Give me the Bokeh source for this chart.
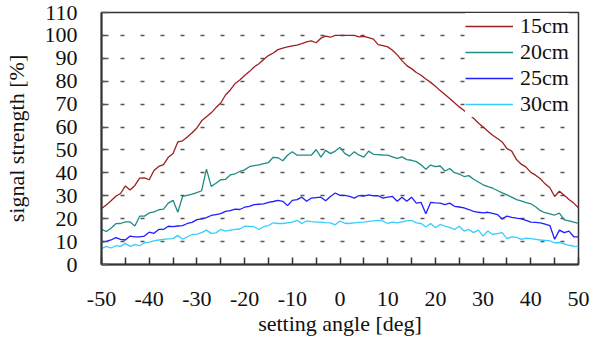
from bokeh.plotting import figure
from bokeh.models import FixedTicker, Legend, LegendItem, ColumnDataSource
from bokeh.embed import file_html
from bokeh.resources import INLINE

angles = list(range(-50, 51))

s15 = [24.4, 26.0, 27.8, 29.8, 31.0, 34.3, 32.5, 34.5, 37.7, 37.8,
       37.0, 41.0, 42.8, 43.6, 46.8, 48.5, 53.5, 54.0, 55.7, 57.5,
       59.6, 62.7, 64.5, 66.2, 68.5, 70.5, 74.0, 76.2, 79.0, 80.5,
       82.5, 84.2, 86.2, 87.6, 89.5, 91.2, 92.3, 93.8, 94.5, 95.0,
       95.4, 95.8, 96.4, 97.2, 97.6, 96.8, 98.8, 99.7, 99.2, 100.0,
       100.0, 100.0, 100.0, 100.0, 99.4, 99.6, 99.0, 98.4, 96.0, 95.5,
       95.0, 93.5, 91.5, 89.0, 86.8, 85.5, 83.8, 82.6, 81.0, 79.5,
       77.8, 75.9, 74.2, 72.5, 70.6, 68.8, 67.2, 65.6, 63.8, 61.8,
       60.0, 58.2, 56.4, 55.0, 53.5, 50.6, 49.5, 45.8, 43.8, 42.5,
       40.2, 39.0, 37.4, 35.2, 33.5, 29.7, 32.0, 30.2, 28.4, 26.8,
       24.7]

s20 = [15.3, 14.4, 15.8, 17.8, 17.9, 18.6, 18.6, 16.8, 21.1, 21.1,
       22.5, 23.0, 23.9, 24.2, 26.8, 28.0, 22.8, 29.7, 30.2, 30.7,
       31.4, 32.2, 41.6, 34.1, 35.5, 37.0, 37.2, 39.1, 39.6, 40.6,
       41.3, 42.7, 43.2, 43.5, 44.0, 44.5, 46.8, 46.6, 45.3, 47.7,
       49.2, 47.7, 47.7, 47.7, 47.7, 50.2, 46.9, 49.8, 48.4, 49.5,
       51.1, 48.5, 47.3, 49.2, 47.7, 46.9, 49.5, 48.1, 48.0, 47.8,
       47.7, 47.0, 46.3, 47.0, 45.8, 45.5, 44.9, 43.5, 41.6, 43.4,
       42.7, 43.0, 40.8, 41.9, 40.1, 39.5, 38.4, 38.8, 37.2, 36.0,
       34.8, 34.0, 33.3, 32.3, 31.3, 30.4, 29.4, 28.3, 27.8, 27.0,
       26.5, 25.2, 23.5, 22.6, 22.1, 21.6, 22.4, 19.5, 19.0, 18.5,
       18.0]

s25 = [9.8, 10.1, 10.7, 11.7, 11.0, 10.7, 12.4, 12.1, 12.1, 12.4,
       14.1, 13.6, 15.3, 15.3, 16.7, 16.5, 16.8, 17.0, 17.9, 18.4,
       19.6, 19.9, 20.5, 21.4, 21.8, 22.2, 23.2, 23.5, 24.2, 24.0,
       25.0, 25.4, 26.1, 26.3, 26.5, 27.1, 27.5, 28.0, 27.6, 25.7,
       28.0, 28.3, 29.4, 27.6, 29.0, 29.2, 29.4, 27.8, 29.7, 31.2,
       30.2, 30.2, 29.7, 29.0, 30.1, 29.8, 30.4, 30.0, 30.0, 29.0,
       29.4, 29.7, 27.6, 29.4, 27.6, 29.4, 26.8, 27.1, 22.1, 27.1,
       26.9, 26.8, 26.1, 26.8, 25.4, 25.1, 24.7, 24.0, 23.2, 22.8,
       22.5, 22.8, 22.3, 21.8, 19.9, 21.1, 20.6, 20.2, 19.9, 19.3,
       18.5, 18.4, 18.2, 17.6, 17.0, 11.0, 15.0, 13.9, 14.6, 12.1,
       12.1]

s30 = [6.9, 7.9, 7.2, 8.2, 7.9, 9.2, 7.9, 8.7, 8.2, 9.5,
       9.8, 10.3, 10.7, 11.0, 11.2, 11.3, 12.7, 11.0, 12.1, 13.1,
       13.3, 13.9, 15.0, 13.6, 13.8, 15.3, 14.6, 15.0, 15.3, 15.5,
       16.7, 16.6, 16.5, 15.3, 16.5, 17.0, 18.2, 17.9, 17.9, 18.2,
       18.5, 19.3, 17.9, 19.0, 18.7, 18.5, 18.5, 18.3, 18.2, 17.3,
       19.0, 18.0, 17.9, 18.2, 18.4, 18.5, 18.8, 19.0, 19.3, 19.0,
       17.9, 18.5, 18.2, 18.6, 19.0, 19.3, 18.2, 17.9, 16.4, 17.9,
       16.0, 17.5, 16.7, 16.2, 15.3, 16.7, 14.6, 15.3, 13.9, 15.0,
       12.4, 14.6, 13.1, 13.5, 13.9, 11.3, 12.1, 11.8, 11.0, 11.5,
       11.3, 11.0, 10.7, 10.5, 10.3, 9.5, 9.6, 9.0, 8.4, 8.0,
       7.8]

series_names = ["15cm", "20cm", "25cm", "30cm"]
series_colors = ["#9E1F22", "#1E8C86", "#1F1FFF", "#36CDFF"]
x_ticks = list(range(-50, 51, 10))
x_minor = list(range(-45, 50, 10))
y_ticks = list(range(0, 111, 10))
x_tick_labels = {t: str(t) for t in x_ticks}

FONT = "Liberation Serif"

p = figure(width=592, height=339, output_backend="svg", toolbar_location=None,
           x_range=(-50, 50), y_range=(0, 110),
           min_border_left=97, min_border_right=14, min_border_top=12,
           min_border_bottom=75)
p.background_fill_color = "white"
p.border_fill_color = "white"
p.outline_line_color = "#333333"
p.outline_line_width = 1.5

src = ColumnDataSource(dict(x=angles, a=s15, b=s20, c=s25, d=s30))
renderers = []
for col, color in zip(["a", "b", "c", "d"], series_colors):
    r = p.line("x", col, source=src, line_color=color, line_width=1.3)
    renderers.append(r)

# grid
p.xgrid.visible = False
p.ygrid.ticker = FixedTicker(ticks=list(range(10, 101, 10)))
p.ygrid.grid_line_color = "#555555"
p.ygrid.grid_line_width = 1.3
p.ygrid.grid_line_dash = "4 16"
p.ygrid.grid_line_dash_offset = 1

# x axis
xa = p.xaxis[0]
xa.ticker = FixedTicker(ticks=x_ticks, minor_ticks=x_minor)
xa.major_label_overrides = x_tick_labels
xa.axis_label = "setting angle [deg]"
xa.axis_label_text_font = FONT
xa.axis_label_text_font_size = "22px"
xa.axis_label_text_font_style = "normal"
xa.axis_label_text_color = "#111111"
xa.axis_label_standoff = 2
xa.major_label_text_font = FONT
xa.major_label_text_font_size = "22px"
xa.major_label_text_font_style = "normal"
xa.major_label_text_color = "#111111"
xa.major_label_standoff = 27
xa.major_tick_in = 7
xa.major_tick_out = 0
xa.minor_tick_in = 7
xa.minor_tick_out = 0
xa.axis_line_width = 2
xa.axis_line_color = "#333333"
xa.major_tick_line_color = "#333333"
xa.minor_tick_line_color = "#333333"
xa.major_tick_line_width = 1.5
xa.minor_tick_line_width = 1.5

# y axis
ya = p.yaxis[0]
ya.ticker = FixedTicker(ticks=y_ticks)
ya.axis_label = "signal strength [%]"
ya.axis_label_text_font = FONT
ya.axis_label_text_font_size = "22px"
ya.axis_label_text_font_style = "normal"
ya.axis_label_text_color = "#111111"
ya.axis_label_standoff = 13
ya.major_label_text_font = FONT
ya.major_label_text_font_size = "22px"
ya.major_label_text_font_style = "normal"
ya.major_label_text_color = "#111111"
ya.major_label_standoff = 24
ya.major_tick_in = 7
ya.major_tick_out = 0
ya.minor_tick_line_color = None
ya.axis_line_width = 2
ya.axis_line_color = "#333333"
ya.major_tick_line_color = "#555555"
ya.major_tick_line_width = 1.3

pad = 3
legend = Legend(items=[LegendItem(label=n, renderers=[r]) for n, r in zip(series_names, renderers)],
                location=(367 - pad, 150 - pad))
legend.padding = pad
legend.margin = 0
legend.spacing = 0
legend.glyph_width = 48
legend.glyph_height = 26
legend.label_height = 26
legend.label_standoff = 7
legend.label_text_font = FONT
legend.label_text_font_size = "22px"
legend.label_text_font_style = "normal"
legend.label_text_color = "#111111"
legend.border_line_color = None
legend.background_fill_color = "white"
legend.background_fill_alpha = 1.0
p.add_layout(legend, "center")

open("out.html", "w").write(file_html(p, INLINE))
